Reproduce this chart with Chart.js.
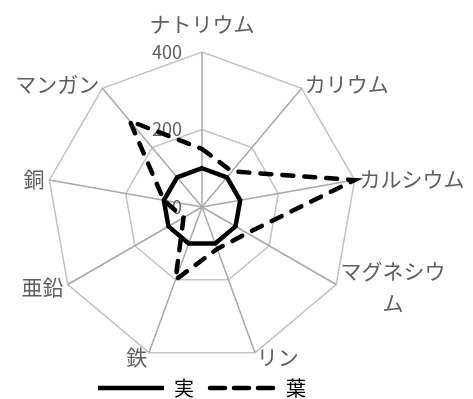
<!DOCTYPE html>
<html lang="ja">
<head>
<meta charset="utf-8">
<title>実と葉のミネラル比較</title>
<script src="https://cdn.jsdelivr.net/npm/chart.js@4/dist/chart.umd.min.js"></script>
<style>
  html, body { margin: 0; padding: 0; background: #fff; }
  #wrap { width: 473px; height: 399px; }
</style>
</head>
<body>
<div id="wrap"><canvas id="c" width="473" height="399"></canvas></div>
<script>
// Minerals on each spoke of the radar
const categories = ['ナトリウム', 'カリウム', 'カルシウム', ['マグネシウ', 'ム'], 'リン', '鉄', '亜鉛', '銅', 'マンガン'];
// 実 (fruit) is the reference level, 葉 (leaf) relative to it
const fruitValues = [100, 100, 100, 100, 100, 100, 100, 100, 100];
const leafValues = [150, 120, 400, 135, 115, 200, 55, 100, 290];
const seriesNames = ['実', '葉'];
const tickValues = [0, 200, 400];

const JP_FONT = '"Noto Sans CJK JP", "Noto Sans", sans-serif';
const TEXT_GRAY = '#5f5f5f';

// Tick numbers sit to the left of the vertical spoke; category names hug the outer ring
const axisText = {
  id: 'axisText',
  beforeDatasetsDraw(chart) {
    const scale = chart.scales.r;
    const ctx = chart.ctx;
    ctx.save();
    ctx.fillStyle = TEXT_GRAY;

    ctx.font = '18px ' + JP_FONT;
    ctx.textAlign = 'right';
    ctx.textBaseline = 'middle';
    tickValues.forEach(v => {
      const d = scale.getDistanceFromCenterForValue(v);
      ctx.fillText(String(v), scale.xCenter - 20, scale.yCenter - d);
    });

    ctx.font = '21px ' + JP_FONT;
    ctx.textAlign = 'center';
    const lineH = 32;
    chart.data.labels.forEach((label, i) => {
      const lines = [].concat(label);
      const a = scale.getIndexAngle(i);
      const s = Math.sin(a);
      const w = Math.max(...lines.map(l => ctx.measureText(l).width));
      let cx, cy;
      if (Math.abs(s) < 0.2) {
        const p = scale.getPointPosition(i, scale.drawingArea + 28);
        cx = p.x; cy = p.y;
      } else {
        const p = scale.getPointPosition(i, scale.drawingArea + 5);
        cx = s > 0 ? p.x + w / 2 : p.x - w / 2;
        cy = p.y;
      }
      lines.forEach((l, k) => {
        ctx.fillText(l, cx, cy + (k - (lines.length - 1) / 2) * lineH);
      });
    });
    ctx.restore();
  }
};

const legendDash = [15, 9];

new Chart(document.getElementById('c'), {
  type: 'radar',
  data: {
    labels: categories,
    datasets: [
      {
        label: seriesNames[0],
        data: fruitValues,
        borderColor: '#000',
        backgroundColor: 'transparent',
        borderWidth: 4.5,
        borderJoinStyle: 'miter',
        pointRadius: 0,
        fill: false
      },
      {
        label: seriesNames[1],
        data: leafValues,
        borderColor: '#000',
        backgroundColor: 'transparent',
        borderWidth: 4.5,
        borderDash: [11, 11],
        borderCapStyle: 'round',
        borderJoinStyle: 'miter',
        pointRadius: 0,
        fill: false
      }
    ]
  },
  options: {
    responsive: false,
    animation: false,
    devicePixelRatio: 1,
    layout: { padding: { left: 47, right: 116, top: 52, bottom: -9 } },
    scales: {
      r: {
        min: 0,
        max: 400,
        ticks: { stepSize: 200, display: false },
        grid: { color: '#c4c4c4', lineWidth: 1.5 },
        angleLines: { color: '#a9a9a9', lineWidth: 1.5 },
        pointLabels: { display: false }
      }
    },
    plugins: {
      tooltip: { enabled: false },
      legend: {
        position: 'bottom',
        labels: {
          usePointStyle: true,
          pointStyleWidth: 66,
          padding: 16,
          color: TEXT_GRAY,
          font: { size: 20, family: JP_FONT },
          generateLabels(chart) {
            return chart.data.datasets.map((ds, i) => ({
              text: ds.label,
              fillStyle: '#000',
              strokeStyle: ds.borderColor,
              lineWidth: ds.borderWidth,
              lineDash: ds.borderDash ? legendDash : [],
              lineCap: ds.borderCapStyle || 'butt',
              pointStyle: 'line',
              hidden: false,
              datasetIndex: i
            }));
          }
        }
      }
    }
  },
  plugins: [axisText]
});
</script>
</body>
</html>
